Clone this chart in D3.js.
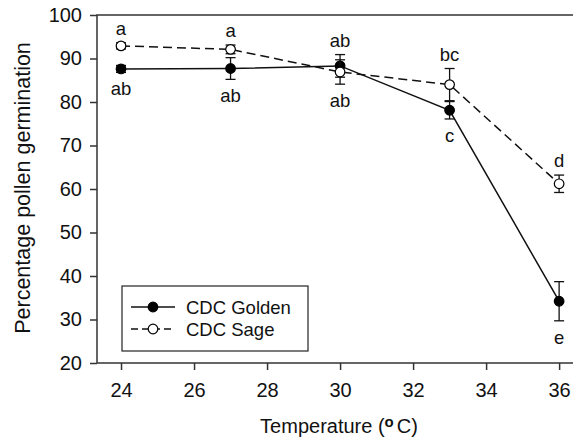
<!DOCTYPE html>
<html>
<head>
<meta charset="utf-8">
<script src="https://cdn.jsdelivr.net/npm/d3@7"></script>
<style>
  body { margin: 0; background: #fff; }
  svg text { font-family: "Liberation Sans", Arial, sans-serif; fill: #111; }
</style>
</head>
<body>
<svg></svg>
<script>
var width = 573, height = 442;

var temps = [24, 27, 30, 33, 36];
var goldenMean = [87.6, 87.7, 88.3, 78.1, 34.2];
var goldenErr = [0.8, 2.5, 2.6, 2.0, 4.5];
var sageMean = [92.9, 92.1, 86.9, 84.0, 61.2];
var sageErr = [0.7, 1.0, 2.8, 3.7, 2.0];
var sageLetters = ['a', 'a', 'ab', 'bc', 'd'];
var goldenLetters = ['ab', 'ab', 'ab', 'c', 'e'];
var xTicks = [24, 26, 28, 30, 32, 34, 36];
var yTicks = [20, 30, 40, 50, 60, 70, 80, 90, 100];

var margin = { top: 15, right: -10, bottom: 79, left: 97 };
var innerWidth = width - margin.left - margin.right;
var innerHeight = height - margin.top - margin.bottom;

var svg = d3.select('svg')
    .attr('width', width)
    .attr('height', height);

var g = svg.append('g')
    .attr('transform', `translate(${margin.left},${margin.top})`);

var x = d3.scaleLinear().domain([23.342, 36.654]).range([0, innerWidth]);
var y = d3.scaleLinear().domain([20, 100]).range([innerHeight, 0]);

// frame (right side falls outside the picture)
g.append('rect')
    .attr('width', innerWidth)
    .attr('height', innerHeight)
    .attr('fill', 'none')
    .attr('stroke', '#333')
    .attr('stroke-width', 1.5);

var xAxis = g.append('g')
    .attr('transform', `translate(0,${innerHeight})`)
    .call(d3.axisBottom(x).tickValues(xTicks).tickSize(7).tickPadding(13));
var yAxis = g.append('g')
    .call(d3.axisLeft(y).tickValues(yTicks).tickSize(7).tickPadding(8));

[xAxis, yAxis].forEach(a => {
  a.attr('font-size', 20).attr('font-family', null);
  a.select('.domain').remove();
  a.selectAll('line').attr('stroke', '#333').attr('stroke-width', 1.5);
  a.selectAll('text').style('font-size', '20px').attr('fill', '#111');
});

// axis titles
var xt = svg.append('text')
    .attr('x', 339)
    .attr('y', 433)
    .attr('text-anchor', 'middle')
    .style('font-size', '20px');
xt.append('tspan').text('Temperature (');
xt.append('tspan').text('o').attr('dy', -6).style('font-size', '15px').style('font-weight', 'bold');
xt.append('tspan').text('C)').attr('dy', 6).attr('dx', 3);

svg.append('text')
    .attr('transform', 'translate(30,188) rotate(-90)')
    .attr('text-anchor', 'middle')
    .style('font-size', '21.5px')
    .text('Percentage pollen germination');

var line = d3.line().x((d, i) => x(temps[i])).y(d => y(d));

g.append('path').datum(goldenMean)
    .attr('d', line)
    .attr('fill', 'none')
    .attr('stroke', '#111')
    .attr('stroke-width', 1.5);

g.append('path').datum(sageMean)
    .attr('d', line)
    .attr('fill', 'none')
    .attr('stroke', '#111')
    .attr('stroke-width', 1.5)
    .attr('stroke-dasharray', '9,5');

function drawSeries(means, errs, filled) {
  var s = g.append('g');
  var pts = s.selectAll('g').data(means).enter().append('g')
      .attr('transform', (d, i) => `translate(${x(temps[i])},0)`);
  pts.append('line')
      .attr('y1', (d, i) => y(d + errs[i]))
      .attr('y2', (d, i) => y(d - errs[i]))
      .attr('stroke', '#111').attr('stroke-width', 1.3);
  [1, -1].forEach(sign => {
    pts.append('line')
        .attr('x1', -5).attr('x2', 5)
        .attr('y1', (d, i) => y(d + sign * errs[i]))
        .attr('y2', (d, i) => y(d + sign * errs[i]))
        .attr('stroke', '#111').attr('stroke-width', 1.3);
  });
  pts.append('circle')
      .attr('cy', d => y(d))
      .attr('r', 4.8)
      .attr('fill', filled ? '#000' : '#fff')
      .attr('stroke', '#000')
      .attr('stroke-width', 1.2);
}

drawSeries(goldenMean, goldenErr, true);
drawSeries(sageMean, sageErr, false);

// significance letters
var tops = temps.map((t, i) => Math.max(goldenMean[i] + goldenErr[i], sageMean[i] + sageErr[i]));
var bottoms = temps.map((t, i) => Math.min(goldenMean[i] - goldenErr[i], sageMean[i] - sageErr[i]));

g.selectAll('.upper').data(sageLetters).enter().append('text')
    .attr('x', (d, i) => x(temps[i]))
    .attr('y', (d, i) => y(tops[i]) - 8)
    .attr('text-anchor', 'middle')
    .style('font-size', '18.5px')
    .text(d => d);

g.selectAll('.lower').data(goldenLetters).enter().append('text')
    .attr('x', (d, i) => x(temps[i]))
    .attr('y', (d, i) => y(bottoms[i]) + 23)
    .attr('text-anchor', 'middle')
    .style('font-size', '18.5px')
    .text(d => d);

// legend
var legend = svg.append('g').attr('transform', 'translate(122,286)');
legend.append('rect')
    .attr('width', 186).attr('height', 65)
    .attr('fill', '#fff').attr('stroke', '#222').attr('stroke-width', 1.2);

var legendItems = ['CDC Golden', 'CDC Sage'];
legendItems.forEach((name, i) => {
  var row = legend.append('g').attr('transform', `translate(0,${21 + i * 22})`);
  row.append('line')
      .attr('x1', 9).attr('x2', 53)
      .attr('stroke', '#111').attr('stroke-width', 1.5)
      .attr('stroke-dasharray', i ? '7,4' : null);
  row.append('circle')
      .attr('cx', 31).attr('r', 4.8)
      .attr('fill', i ? '#fff' : '#000')
      .attr('stroke', '#000').attr('stroke-width', 1.2);
  row.append('text')
      .attr('x', 64).attr('y', 7)
      .style('font-size', '18.5px')
      .text(name);
});
</script>
</body>
</html>
